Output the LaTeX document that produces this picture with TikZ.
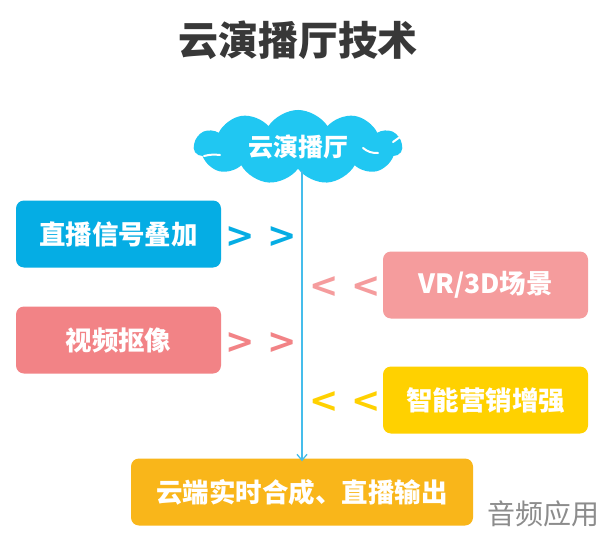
\documentclass[tikz,border=0pt]{standalone}
\usepackage{fontspec}
\setmainfont{Noto Sans CJK SC}
\newfontfamily\chev{DejaVu Sans}
\usetikzlibrary{shapes.symbols,arrows.meta}
\definecolor{cloudc}{HTML}{20C7F2}
\definecolor{boxblue}{HTML}{05ADE4}
\definecolor{boxpink}{HTML}{F28386}
\definecolor{boxrose}{HTML}{F59C9D}
\definecolor{boxyel}{HTML}{FFD100}
\definecolor{boxorg}{HTML}{F9B61A}
\definecolor{linec}{HTML}{45BDEB}
\definecolor{titlec}{HTML}{383838}
\tikzset{
  tbox/.style={rounded corners=8pt, minimum width=205pt, minimum height=67pt, inner sep=0pt,
    text=white, font=\fontsize{26.5}{30}\selectfont\bfseries},
  chevs/.style={font=\chev\bfseries\fontsize{35}{36}\selectfont, inner sep=0pt},
  cloudline/.style={white, line width=2pt, line cap=round},
}
\begin{document}
\begin{tikzpicture}[x=1pt,y=-1pt]
\useasboundingbox[fill=white] (0,0) rectangle (614,538);
\node[font=\fontsize{40}{44}\selectfont\bfseries, text=titlec] (title) at (298,40) {云演播厅技术};
\node[cloud, cloud puffs=11, cloud puff arc=115, aspect=2.6, fill=cloudc, minimum width=208pt, minimum height=74pt, inner sep=0pt, text=white, font=\fontsize{25}{28}\selectfont\bfseries] (cloud) at (298,147) {云演播厅};
\draw[cloudline] (204,156) to[bend left=10] (220,155);
\draw[cloudline] (363,148) to[bend right=20] (378,153);
\draw[cloudline] (393,142) -- (400,137);
\node[tbox, fill=boxblue] (b1) at (118.5,234) {直播信号叠加};
\node[tbox, fill=boxpink] (b2) at (118.5,340) {视频抠像};
\node[tbox, fill=boxrose] (b3) at (485.5,285) {VR/3D场景};
\node[tbox, fill=boxyel] (b4) at (485.5,400) {智能营销增强};
\node[tbox, fill=boxorg, minimum width=342pt] (out) at (302,492) {云端实时合成、直播输出};
\node[chevs, text=boxblue] (c1) at (261,237) {> >};
\node[chevs, text=boxpink] (c2) at (261,343) {> >};
\node[chevs, text=boxrose] (c3) at (345,287) {< <};
\node[chevs, text=boxyel] (c4) at (345,402) {< <};
\coordinate (top) at (cloud.south -| out.north);
\draw[linec, line width=1.3pt, -{Straight Barb[length=6pt,width=10pt]}] ([yshift=-2pt]top) -- ([yshift=-3pt]out.north);
\node[text=gray!90, font=\fontsize{28}{30}\selectfont] (wm) at (543,514) {音频应用};
\end{tikzpicture}
\end{document}
